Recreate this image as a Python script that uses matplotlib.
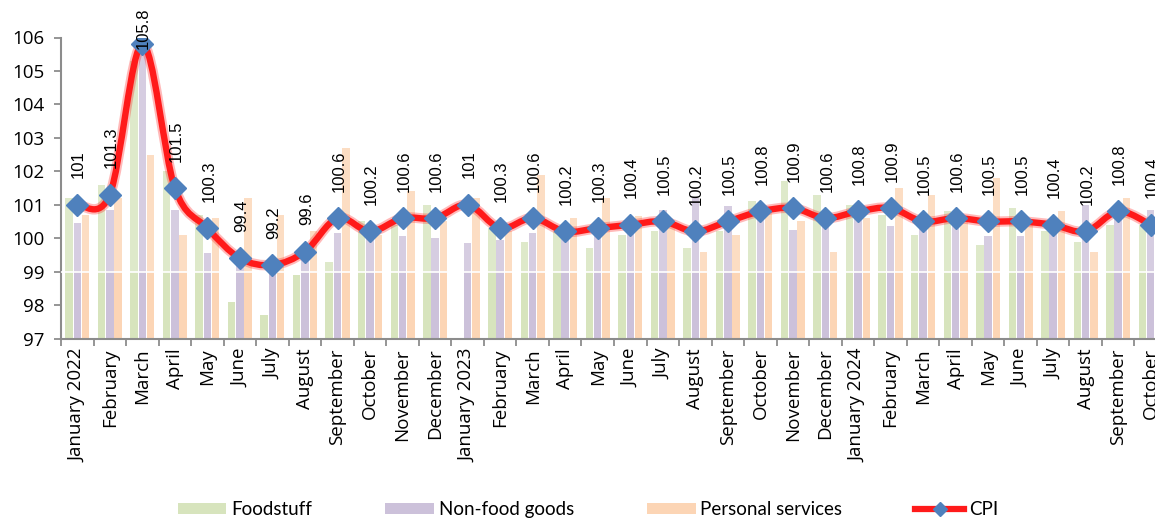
import matplotlib
matplotlib.use("Agg")
import matplotlib.pyplot as plt
import matplotlib.transforms as mtransforms
from matplotlib.path import Path
from matplotlib.patches import PathPatch, Patch
from matplotlib.lines import Line2D
import numpy as np

months = ["January 2022", "February", "March", "April", "May", "June", "July",
          "August", "September", "October", "November", "December",
          "January 2023", "February", "March", "April", "May", "June", "July",
          "August", "September", "October", "November", "December",
          "January 2024", "February", "March", "April", "May", "June", "July",
          "August", "September", "October"]

cpi = [101, 101.3, 105.8, 101.5, 100.3, 99.4, 99.2, 99.6, 100.6, 100.2, 100.6, 100.6,
       101, 100.3, 100.6, 100.2, 100.3, 100.4, 100.5, 100.2, 100.5, 100.8, 100.9, 100.6,
       100.8, 100.9, 100.5, 100.6, 100.5, 100.5, 100.4, 100.2, 100.8, 100.4]

food = [101.2, 101.6, 105.3, 102.0, 100.7, 98.1, 97.7, 98.9, 99.3, 100.5, 100.4, 101.0,
        96.9, 100.3, 99.9, 100.2, 99.7, 100.1, 100.2, 99.7, 100.2, 101.1, 101.7, 101.3,
        101.0, 100.7, 100.1, 100.8, 99.8, 100.9, 100.2, 99.9, 100.4, 100.4]

nonfood = [100.45, 100.85, 105.7, 100.85, 99.55, 99.3, 99.1, 99.5, 100.15, 100.0, 100.05, 100.0,
           99.85, 99.95, 100.15, 100.1, 100.1, 100.3, 100.85, 101.2, 100.95, 100.8, 100.25, 100.4,
           100.7, 100.35, 100.4, 100.5, 100.05, 100.05, 100.4, 101.0, 100.8, 100.85]

services = [100.7, 101.2, 102.5, 100.1, 100.6, 101.2, 100.7, 100.2, 102.7, 100.1, 101.4, 100.5,
            101.2, 100.2, 101.9, 100.6, 101.2, 100.65, 100.35, 99.6, 100.1, 100.8, 100.5, 99.6,
            100.6, 101.5, 101.3, 100.6, 101.8, 100.5, 100.8, 99.6, 101.2, 100.7]

series_names = ["Foodstuff", "Non-food goods", "Personal services", "CPI"]

C_FOOD = "#D7E4BD"
C_NONFOOD = "#CCC1DA"
C_SERV = "#FCD5B5"
C_CPI = "#FF1A1A"
C_MARK = "#4F81BD"
C_AXIS = "#8C8C8C"

plt.rcParams["font.family"] = ["Open Sans", "DejaVu Sans"]

fig = plt.figure(figsize=(11.55, 5.2), dpi=100)
ax = fig.add_axes([61 / 1155, 181.5 / 520, 1106 / 1155, 301 / 520])

n = len(months)
x = np.arange(n)
bw = 0.23
off = 0.255
ax.bar(x - off, food, width=bw, color=C_FOOD, zorder=2)
ax.bar(x, nonfood, width=bw, color=C_NONFOOD, zorder=2)
ax.bar(x + off, services, width=bw, color=C_SERV, zorder=2)

# faint wash over the upper region, as in the reference image
ax.axhspan(99, 106, color="white", alpha=0.2, lw=0, zorder=2.5)
ax.axhline(99, color="white", lw=1.2, zorder=2.6)

# smoothed CPI line (Catmull-Rom as cubic Bezier)
pts = np.column_stack([x, np.array(cpi, dtype=float)])
verts = [pts[0]]
codes = [Path.MOVETO]
for i in range(n - 1):
    p0 = pts[max(i - 1, 0)]
    p1 = pts[i]
    p2 = pts[i + 1]
    p3 = pts[min(i + 2, n - 1)]
    c1 = p1 + (p2 - p0) / 6.0
    c2 = p2 - (p3 - p1) / 6.0
    verts += [c1, c2, p2]
    codes += [Path.CURVE4] * 3
path = Path(verts, codes)
ax.add_patch(PathPatch(path, facecolor="none", edgecolor=C_CPI, lw=7.5, alpha=0.3,
                       capstyle="round", joinstyle="round", zorder=3))
ax.add_patch(PathPatch(path, facecolor="none", edgecolor=C_CPI, lw=4.6,
                       capstyle="round", joinstyle="round", zorder=3.1))
ax.plot(x, cpi, linestyle="none", marker="D", markersize=11, color=C_MARK,
        markeredgecolor=C_MARK, zorder=4)

ax.set_xlim(-0.5, n - 0.5)
ax.set_ylim(97, 106)

# data labels
blend = mtransforms.blended_transform_factory(ax.transData, fig.transFigure)
for i, v in enumerate(cpi):
    lbl = f"{v:g}"
    if v > 106 - 1.5:
        ax.annotate(lbl, xy=(i, 0.985), xycoords=blend, xytext=(1, 0),
                    textcoords="offset points", rotation=90, ha="center", va="top",
                    fontsize=12, family=["Liberation Sans", "DejaVu Sans"], zorder=5)
    else:
        ax.annotate(lbl, xy=(i, v), xytext=(1, 19), textcoords="offset points",
                    rotation=90, ha="center", va="bottom", fontsize=12,
                    family=["Liberation Sans", "DejaVu Sans"], zorder=5)

# axes styling
for s in ["top", "right"]:
    ax.spines[s].set_visible(False)
for s in ["left", "bottom"]:
    ax.spines[s].set_color(C_AXIS)
    ax.spines[s].set_linewidth(1.5)

ax.set_yticks(np.arange(97, 107, 1))
ax.tick_params(axis="y", length=5, width=1.3, color=C_AXIS, labelsize=13.5, pad=7)
ax.set_xticks(x)
ax.set_xticklabels(months, rotation=90)
ax.set_xticks(np.arange(-0.5, n, 1), minor=True)
ax.tick_params(axis="x", which="major", length=0, labelsize=13.5, pad=7)
ax.tick_params(axis="x", which="minor", length=5, width=1.3, color=C_AXIS)

handles = [Patch(facecolor=C_FOOD, edgecolor="none"),
           Patch(facecolor=C_NONFOOD, edgecolor="none"),
           Patch(facecolor=C_SERV, edgecolor="none"),
           Line2D([0], [0], color=C_CPI, lw=4.5, marker="D", markersize=7,
                  markerfacecolor=C_MARK, markeredgecolor=C_MARK)]
leg = fig.legend(handles, series_names, loc="center", bbox_to_anchor=(0.509, 0.02),
                 ncol=4, frameon=False, handlelength=2.6,
                 handleheight=0.5, handletextpad=0.25, columnspacing=3.9,
                 prop={"family": ["Lato", "DejaVu Sans"], "size": 13.5})

fig.savefig("out.png", dpi=100)
